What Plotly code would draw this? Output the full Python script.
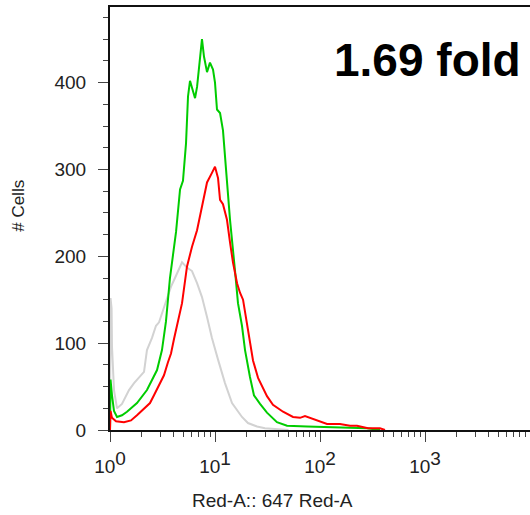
import plotly.graph_objects as go

# ---- data (x in decades of fluorescence, y = # cells) ----
grey_log = [0.0, 0.005, 0.015, 0.019, 0.038, 0.067, 0.114, 0.181, 0.229, 0.276, 0.324, 0.352,
            0.4, 0.438, 0.467, 0.533, 0.581, 0.619, 0.686, 0.733, 0.781, 0.829, 0.876, 0.924,
            0.971, 1.029, 1.095, 1.162, 1.257, 1.314, 1.4, 1.476, 1.6, 1.7]
grey_count = [0, 152, 140, 96, 46, 25, 30, 46, 54, 60, 67, 92,
              106, 120, 124, 148, 165, 175, 193, 187, 183, 169, 153, 130,
              106, 81, 54, 31, 15, 8, 4, 2, 1, 0]

green_log = [0.0, 0.005, 0.019, 0.038, 0.067, 0.114, 0.162, 0.257, 0.352, 0.448, 0.495, 0.533,
             0.571, 0.6, 0.629, 0.667, 0.695, 0.724, 0.743, 0.762, 0.79, 0.81, 0.829, 0.857,
             0.876, 0.895, 0.924, 0.952, 0.981, 1.0, 1.019, 1.048, 1.076, 1.105, 1.143, 1.19,
             1.219, 1.257, 1.286, 1.333, 1.371, 1.429, 1.495, 1.59, 1.686, 1.876, 2.095, 2.448, 2.571]
green_count = [0, 58, 40, 22, 15, 17, 21, 31, 46, 69, 92, 125,
               175, 205, 228, 277, 287, 330, 384, 402, 390, 382, 395, 430,
               450, 430, 412, 423, 415, 400, 369, 365, 345, 300, 242, 184,
               146, 120, 92, 61, 40, 30, 20, 9, 5, 4, 3, 2, 0]

red_log = [0.0, 0.005, 0.019, 0.057, 0.133, 0.2, 0.257, 0.324, 0.381, 0.419, 0.467, 0.514,
           0.552, 0.581, 0.61, 0.648, 0.686, 0.733, 0.781, 0.829, 0.876, 0.924, 0.971, 1.0,
           1.029, 1.048, 1.076, 1.114, 1.143, 1.171, 1.21, 1.238, 1.267, 1.314, 1.362, 1.41,
           1.457, 1.495, 1.552, 1.648, 1.743, 1.81, 1.857, 1.905, 1.971, 2.067, 2.19, 2.286,
           2.352, 2.457, 2.571, 2.619]
red_count = [0, 22, 14, 10, 9, 11, 17, 25, 31, 40, 52, 63,
             78, 88, 105, 127, 146, 188, 211, 230, 257, 285, 296, 303,
             290, 265, 260, 242, 216, 193, 169, 158, 150, 115, 80, 60,
             48, 39, 29, 21, 15, 14, 16, 14, 11, 7, 7, 5,
             5, 2, 2, 0]

x_tickvals = [1, 10, 100, 1000]
x_ticktext = ["10<sup><span style='font-size:19px'>0</span></sup>",
              "10<sup><span style='font-size:19px'>1</span></sup>",
              "10<sup><span style='font-size:19px'>2</span></sup>",
              "10<sup><span style='font-size:19px'>3</span></sup>"]
x_minor = [m * 10 ** e for e in range(4) for m in range(2, 10)]
y_tickvals = [0, 100, 200, 300, 400]

fig = go.Figure()
for lx, cnt, color in [(grey_log, grey_count, "#d2d2d2"),
                       (green_log, green_count, "#00cc00"),
                       (red_log, red_count, "#ff0000")]:
    fig.add_trace(go.Scatter(x=[10 ** v for v in lx], y=cnt, mode="lines",
                             line=dict(color=color, width=2),
                             hoverinfo="skip", showlegend=False))

fig.update_layout(
    width=530, height=515,
    margin=dict(l=110, r=0, t=7, b=85),
    paper_bgcolor="white", plot_bgcolor="white",
    font=dict(family="Liberation Sans, Arial, sans-serif", color="#222"),
)
fig.update_xaxes(
    type="log", range=[0, 4],
    showline=True, linecolor="#111", linewidth=2, mirror=True,
    ticks="outside", ticklen=10, tickwidth=1, tickcolor="#444",
    tickmode="array", tickvals=x_tickvals, ticktext=x_ticktext,
    tickfont=dict(size=19, color="#222"), ticklabelstandoff=8,
    showgrid=False, zeroline=False,
    minor=dict(tickmode="array", tickvals=x_minor, ticks="outside", ticklen=5,
               tickwidth=1, tickcolor="#444", showgrid=False),
)
fig.update_yaxes(
    range=[0, 487],
    showline=True, linecolor="#111", linewidth=2,
    ticks="outside", ticklen=10, tickwidth=1, tickcolor="#444",
    tickmode="array", tickvals=y_tickvals,
    tickfont=dict(size=19, color="#222"), ticklabelstandoff=8,
    showgrid=False, zeroline=False,
    minor=dict(tick0=0, dtick=25, ticks="outside", ticklen=5, tickwidth=1,
               tickcolor="#444", showgrid=False),
)

fig.add_annotation(text="Red-A:: 647 Red-A", xref="paper", yref="paper",
                   x=0.388, y=-0.1655, xanchor="center", yanchor="middle",
                   showarrow=False, font=dict(size=19, color="#222"))
fig.add_annotation(text="# Cells", xref="paper", yref="paper",
                   x=-0.2167, y=0.53, xanchor="center", yanchor="middle",
                   textangle=-90, showarrow=False, font=dict(size=17, color="#222"))
fig.add_annotation(text="<b>1.69 fold</b>", xref="paper", yref="paper",
                   x=0.756, y=0.875, xanchor="center", yanchor="middle",
                   showarrow=False, font=dict(size=46, color="#000"))

fig.write_html("out.html")
